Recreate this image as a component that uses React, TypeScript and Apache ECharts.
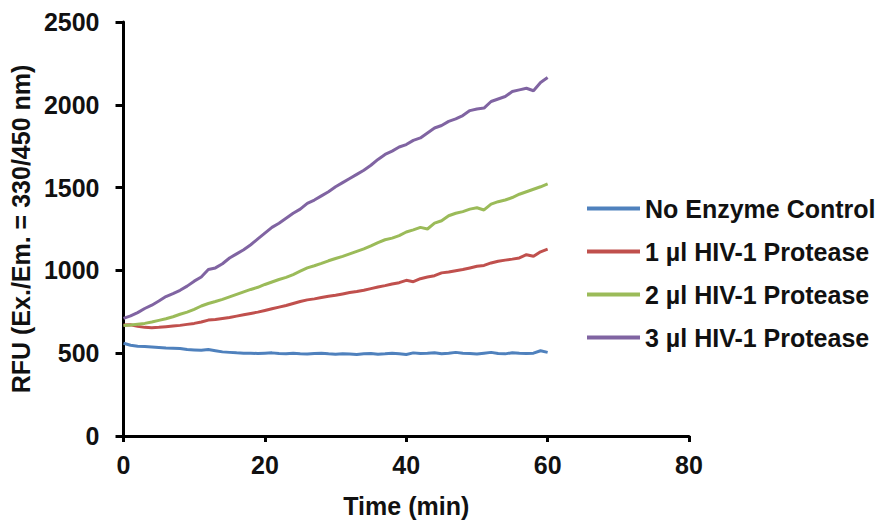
import React, { useEffect, useRef } from "react";
import * as echarts from "echarts";

const timeMin: number[] = Array.from({ length: 61 }, (_, i) => i);

const xTicks = [0, 20, 40, 60, 80];
const yTicks = [0, 500, 1000, 1500, 2000, 2500];

const seriesNames = [
  "No Enzyme Control",
  "1 µl HIV-1 Protease",
  "2 µl HIV-1 Protease",
  "3 µl HIV-1 Protease",
];

const noEnzyme = [
  560, 548, 542, 540, 538, 535, 532, 530, 528, 522, 520, 518, 522, 515, 508, 505, 502, 500, 500, 498,
  500, 502, 498, 496, 500, 497, 495, 498, 500, 496, 494, 497, 495, 492, 496, 498, 494, 496, 500, 497,
  492, 502, 498, 500, 503, 497, 500, 505, 500, 498, 495, 500, 505, 498, 496, 503, 500, 498, 500, 515,
  505,
];

const hiv1ul = [
  670, 672, 662, 656, 654, 656, 660, 664, 668, 674, 680, 688, 700, 704, 710, 716, 724, 732, 740, 748,
  758, 768, 778, 788, 800, 812, 822, 828, 836, 844, 850, 858, 866, 872, 880, 890, 900, 908, 918, 926,
  940, 932, 950, 960, 968, 985, 990, 998, 1005, 1015, 1025, 1030, 1045, 1055, 1062, 1068, 1075, 1095,
  1085, 1112, 1128,
];

const hiv2ul = [
  668, 670, 675, 680, 688, 698, 708, 720, 735, 748, 765, 785, 800, 812, 825, 840, 855, 870, 885, 898,
  915, 930, 945, 958, 975, 995, 1015, 1028, 1042, 1058, 1072, 1085, 1100, 1115, 1130, 1148, 1168, 1185,
  1195, 1210, 1232, 1245, 1260, 1250, 1285, 1300, 1330, 1345, 1355, 1370, 1378, 1365, 1400, 1415, 1425,
  1440, 1460, 1475, 1490, 1505, 1522,
];

const hiv3ul = [
  710, 725, 745, 770, 790, 815, 842, 860, 880, 905, 935, 960, 1005, 1015, 1040, 1075, 1100, 1125, 1155,
  1190, 1225, 1260, 1285, 1315, 1345, 1370, 1405, 1425, 1450, 1475, 1505, 1530, 1555, 1580, 1605, 1635,
  1670, 1700, 1720, 1745, 1760, 1785, 1800, 1830, 1860, 1875, 1900, 1915, 1935, 1965, 1975, 1980, 2020,
  2035, 2050, 2080, 2090, 2100, 2085, 2135, 2165,
];

const colors = ["#4F81BD", "#C0504D", "#9BBB59", "#8064A2"];

const FONT = "'Liberation Sans', Arial, sans-serif";

export default function App() {
  const ref = useRef<HTMLDivElement>(null);

  useEffect(() => {
    document.body.style.margin = "0";
    if (!ref.current) return;
    const chart = echarts.init(ref.current, undefined, { renderer: "svg" });
    const allSeries = [noEnzyme, hiv1ul, hiv2ul, hiv3ul];
    const axisText = {
      fontFamily: FONT,
      fontWeight: "bold" as const,
      fontSize: 25,
      color: "#111",
    };
    chart.setOption({
      animation: false,
      backgroundColor: "#fff",
      color: colors,
      grid: { left: 122, right: 197, top: 22, bottom: 82, containLabel: false },
      legend: {
        orient: "vertical",
        left: 587,
        top: 196,
        padding: 0,
        icon: "rect",
        itemWidth: 53,
        itemHeight: 4,
        itemGap: 18,
        textStyle: { ...axisText },
        data: seriesNames,
      },
      xAxis: {
        type: "value",
        min: xTicks[0],
        max: xTicks[xTicks.length - 1],
        interval: 20,
        name: "Time (min)",
        nameLocation: "middle",
        nameGap: 57,
        nameTextStyle: axisText,
        axisLine: { show: true, lineStyle: { color: "#000", width: 3 } },
        axisTick: { show: true, length: 6, lineStyle: { color: "#000", width: 3 } },
        axisLabel: { ...axisText, margin: 16, formatter: (v: number) => String(v) },
        splitLine: { show: false },
      },
      yAxis: {
        type: "value",
        min: yTicks[0],
        max: yTicks[yTicks.length - 1],
        interval: 500,
        name: "RFU (Ex./Em. = 330/450 nm)",
        nameLocation: "middle",
        nameGap: 86,
        nameTextStyle: axisText,
        axisLine: { show: true, lineStyle: { color: "#000", width: 3 } },
        axisTick: { show: true, length: 8, lineStyle: { color: "#000", width: 3 } },
        axisLabel: { ...axisText, margin: 24, formatter: (v: number) => String(v) },
        splitLine: { show: false },
      },
      series: seriesNames.map((name, i) => ({
        name,
        type: "line",
        showSymbol: false,
        symbol: "none",
        data: timeMin.map((t, j) => [t, allSeries[i][j]]),
        lineStyle: { width: 3, color: colors[i] },
        itemStyle: { color: colors[i] },
      })),
    });
    return () => chart.dispose();
  }, []);

  return <div ref={ref} style={{ width: 886, height: 523 }} />;
}
